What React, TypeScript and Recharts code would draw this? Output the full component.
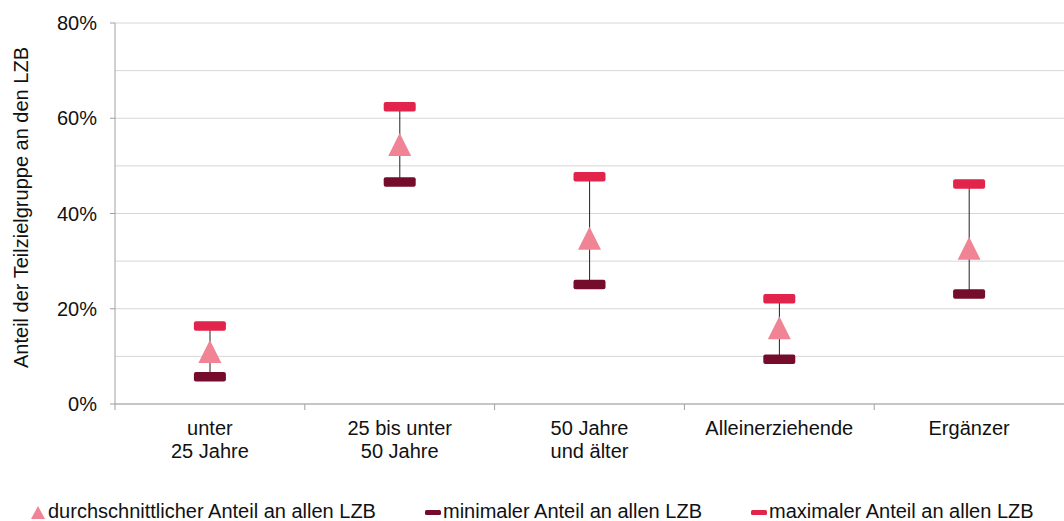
import { ComposedChart, Line, Bar, XAxis, YAxis, CartesianGrid } from 'recharts';

const categories = ['unter\n25 Jahre', '25 bis unter\n50 Jahre', '50 Jahre\nund älter', 'Alleinerziehende', 'Ergänzer'];
const avgShare = [11.0, 54.5, 34.8, 16.0, 32.7];
const minShare = [5.7, 46.6, 25.1, 9.4, 23.1];
const maxShare = [16.4, 62.4, 47.7, 22.1, 46.2];
const yTicks = [0, 20, 40, 60, 80];
const gridLines = [0, 10, 20, 30, 40, 50, 60, 70, 80];

const seriesNames = {
  avg: 'durchschnittlicher Anteil an allen LZB',
  min: 'minimaler Anteil an allen LZB',
  max: 'maximaler Anteil an allen LZB',
};

const COLORS = { avg: '#F18494', min: '#760C2B', max: '#E2234B' };
const FONT = '"Liberation Sans", Arial, sans-serif';
const TEXT = '#111';

const data = categories.map((name, i) => ({
  name,
  avg: avgShare[i],
  min: minShare[i],
  max: maxShare[i],
  range: [minShare[i], maxShare[i]],
}));

function CategoryTick({ x, y, payload }: any) {
  const lines = String(payload.value).split('\n');
  const left = payload.coordinate - (payload.offset || 0);
  return (
    <g>
      <line x1={left} x2={left} y1={y - 8} y2={y - 2} stroke="#A0A0A0" />
      <text x={x} y={y} textAnchor="middle" fontSize={20} fill={TEXT} fontFamily={FONT}>
        {lines.map((l, i) => (
          <tspan key={i} x={x} dy={23}>{l}</tspan>
        ))}
      </text>
    </g>
  );
}

function RangeLine(props: any) {
  const { x, y, width, height } = props;
  const cx = x + width / 2;
  return <line x1={cx} x2={cx} y1={y} y2={y + height} stroke="#222" strokeWidth={1} />;
}

function barMarker(color: string) {
  return (p: any) => (
    <rect key={p.index} x={p.cx - 16} y={p.cy - 4.75} width={32} height={9.5} rx={2} fill={color} />
  );
}

function triMarker(p: any) {
  const h = 11.5;
  return (
    <path
      key={p.index}
      d={`M${p.cx},${p.cy - h} L${p.cx + h},${p.cy + h} L${p.cx - h},${p.cy + h} Z`}
      fill={COLORS.avg}
    />
  );
}

function YLabel({ viewBox }: any) {
  const cy = viewBox.y + viewBox.height / 2 - 6;
  return (
    <text
      x={28}
      y={cy}
      transform={`rotate(-90, 28, ${cy})`}
      textAnchor="middle"
      fontSize={20}
      fill={TEXT}
      fontFamily={FONT}
    >
      Anteil der Teilzielgruppe an den LZB
    </text>
  );
}

function LegendItem({ kind, label }: { kind: 'avg' | 'min' | 'max'; label: string }) {
  return (
    <div style={{ display: 'flex', alignItems: 'center' }}>
      <svg width={16} height={16} style={{ marginRight: 2 }}>
        {kind === 'avg' ? (
          <path d="M8,2 L15,15 L1,15 Z" fill={COLORS.avg} />
        ) : (
          <rect x={0} y={6} width={16} height={5} rx={1.5} fill={COLORS[kind]} />
        )}
      </svg>
      <span>{label}</span>
    </div>
  );
}

export default function App() {
  return (
    <div style={{ position: 'absolute', left: 0, top: 0, width: 1064, height: 521, background: '#fff', fontFamily: FONT }}>
      <ComposedChart width={1064} height={470} data={data} margin={{ top: 23, right: 0, left: 0, bottom: 6 }}>
        <CartesianGrid vertical={false} horizontalValues={gridLines} stroke="#D6D6D6" />
        <XAxis
          dataKey="name"
          interval={0}
          height={60}
          tickLine={false}
          tickSize={6}
          tickMargin={2}
          axisLine={{ stroke: '#A0A0A0' }}
          tick={<CategoryTick />}
        />
        <YAxis
          width={115}
          domain={[0, 80]}
          ticks={yTicks}
          interval={0}
          tickFormatter={(v) => `${v}%`}
          tick={{ fontSize: 20, fill: TEXT, fontFamily: FONT }}
          tickSize={5}
          tickMargin={13}
          axisLine={{ stroke: '#A0A0A0' }}
          tickLine={{ stroke: '#A0A0A0' }}
          label={{ content: <YLabel /> }}
        />
        <Bar dataKey="range" barSize={2} shape={<RangeLine />} isAnimationActive={false} />
        <Line dataKey="min" stroke="none" dot={barMarker(COLORS.min)} activeDot={false} isAnimationActive={false} />
        <Line dataKey="max" stroke="none" dot={barMarker(COLORS.max)} activeDot={false} isAnimationActive={false} />
        <Line dataKey="avg" stroke="none" dot={triMarker} activeDot={false} isAnimationActive={false} />
      </ComposedChart>
      <div
        style={{
          position: 'absolute',
          left: 30,
          top: 500,
          display: 'flex',
          gap: 49,
          fontSize: 20,
          color: TEXT,
          whiteSpace: 'nowrap',
        }}
      >
        <LegendItem kind="avg" label={seriesNames.avg} />
        <LegendItem kind="min" label={seriesNames.min} />
        <LegendItem kind="max" label={seriesNames.max} />
      </div>
    </div>
  );
}
